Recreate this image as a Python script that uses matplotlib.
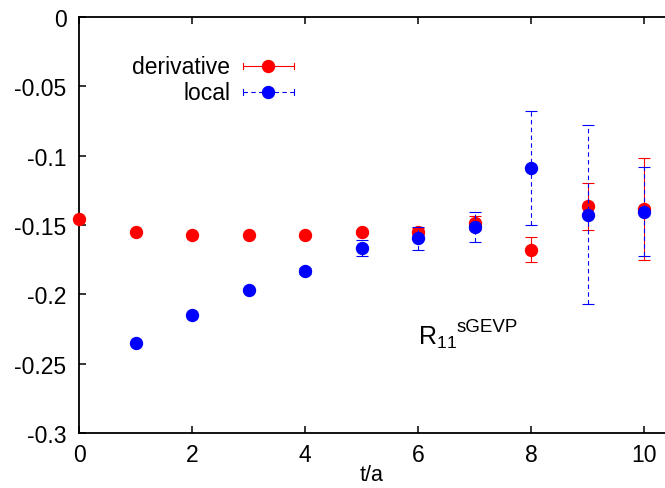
import matplotlib
matplotlib.use("Agg")
import matplotlib.pyplot as plt
from matplotlib.lines import Line2D

plt.rcParams['font.family'] = ['Liberation Sans', 'DejaVu Sans']
plt.rcParams['mathtext.fontset'] = 'custom'
plt.rcParams['mathtext.rm'] = 'Liberation Sans'
plt.rcParams['mathtext.it'] = 'Liberation Sans'

# derivative estimator
t_deriv = [0, 1, 2, 3, 4, 5, 6, 7, 8, 9, 10]
r_deriv = [-0.1456, -0.1552, -0.1570, -0.1572, -0.1574, -0.1553, -0.1550, -0.1485, -0.1680, -0.1365, -0.1384]
e_deriv = [0.0005, 0.0006, 0.0007, 0.0008, 0.0010, 0.0015, 0.0025, 0.0050, 0.0090, 0.0170, 0.0365]

# local estimator
t_local = [1, 2, 3, 4, 5, 6, 7, 8, 9, 10]
r_local = [-0.2348, -0.2146, -0.1968, -0.1831, -0.1667, -0.1597, -0.1514, -0.1091, -0.1425, -0.1404]
e_local = [0.0004, 0.0006, 0.0010, 0.0020, 0.0060, 0.0085, 0.0110, 0.0410, 0.0647, 0.0320]

xticks = [0, 2, 4, 6, 8, 10]
yticks = [0, -0.05, -0.1, -0.15, -0.2, -0.25, -0.3]
ytick_labels = ['0', '-0.05', '-0.1', '-0.15', '-0.2', '-0.25', '-0.3']

W, H = 665, 489
fig = plt.figure(figsize=(W / 100, H / 100), dpi=100)
left, right, top, bottom = 79, 665, 18, 434
ax = fig.add_axes([left / W, 1 - bottom / H, (right - left) / W, (bottom - top) / H])

fs = 16.5
ms = 8.6
ax.errorbar(t_deriv, r_deriv, yerr=e_deriv, fmt='o', color='#ff0000', ms=ms,
            elinewidth=0.8, capsize=4.5, capthick=0.8, clip_on=False, zorder=3)
eb = ax.errorbar(t_local, r_local, yerr=e_local, fmt='o', color='#0000ff', ms=ms,
                 elinewidth=0.8, capsize=4.5, capthick=0.8, clip_on=False, zorder=4)
for lc in eb[2]:
    lc.set_linestyle((0, (4, 3)))

ax.set_xlim(0, (right - left) / 56.5)
ax.set_ylim(-0.3, 0)
ax.set_xticks(xticks)
ax.set_xticklabels([str(v) for v in xticks])
ax.set_yticks(yticks)
ax.set_yticklabels(ytick_labels)

for s in ['left', 'bottom', 'top']:
    ax.spines[s].set_linewidth(1.3)
ax.spines['right'].set_visible(False)
ax.tick_params(axis='both', direction='in', length=5, width=1.1, labelsize=fs,
               top=True, right=False, pad=7)
ax.tick_params(axis='y', pad=9)

ax.set_xlabel('t/a', fontsize=15.5, labelpad=-1)

# R_11 with the sGEVP superscript set after the subscript
ax.text(0.5785, 0.214, r'$\mathregular{R_{11}}$', transform=ax.transAxes,
        fontsize=18, ha='left', va='baseline')
ax.text(0.644, 0.245, 'sGEVP', transform=ax.transAxes,
        fontsize=13.5, ha='left', va='baseline')

# key: label to the left, sample with error caps to the right
def key_entry(y, label, color, ls):
    x0, x1, xm = 0.2799, 0.3669, 0.3225
    ax.text(0.2577, y, label, transform=ax.transAxes, fontsize=fs,
            ha='right', va='center')
    ax.add_line(Line2D([x0, x1], [y, y], transform=ax.transAxes, color=color,
                       lw=0.8, ls=ls, clip_on=False))
    for xc in (x0, x1):
        ax.add_line(Line2D([xc, xc], [y - 0.008, y + 0.008], transform=ax.transAxes,
                           color=color, lw=0.8, clip_on=False))
    ax.add_line(Line2D([xm], [y], transform=ax.transAxes, color=color, marker='o',
                       ms=ms, ls='none', clip_on=False))

key_entry(0.8822, 'derivative', '#ff0000', '-')
key_entry(0.8197, 'local', '#0000ff', (0, (4, 3)))

fig.savefig('out.png', dpi=100)
